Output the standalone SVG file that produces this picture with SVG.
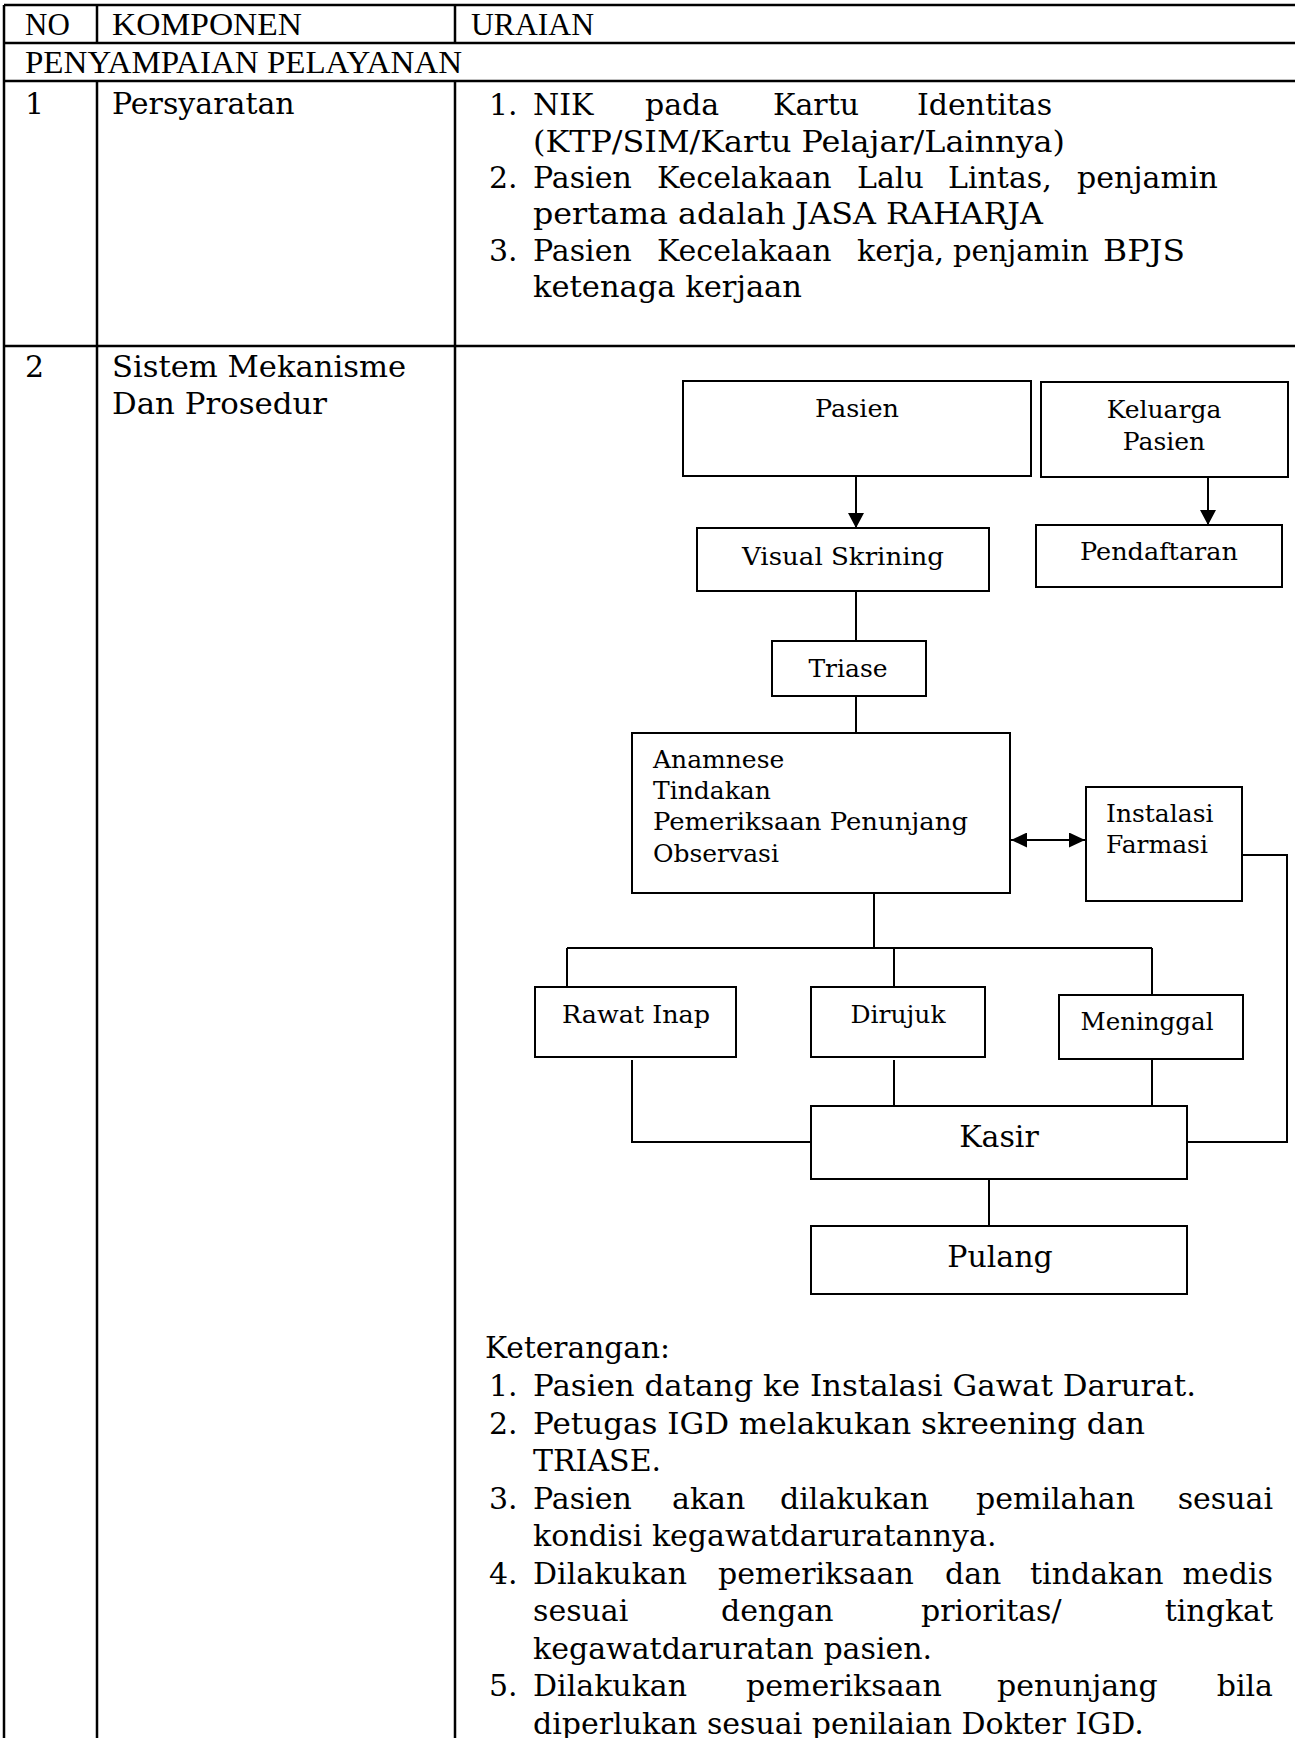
<svg xmlns="http://www.w3.org/2000/svg" width="1295" height="1738" viewBox="0 0 1295 1738">
<style>
text{font-family:"DejaVu Serif","Liberation Serif",serif;fill:#000}
.h{font-family:"Liberation Serif","DejaVu Serif",serif;font-size:31px}
.b{font-size:30px}
.f{font-size:25px}
.k{font-size:30px}
.tbl{stroke:#000;stroke-width:2.5;fill:none}
.box{fill:#fff;stroke:#000;stroke-width:2}
.con{stroke:#000;stroke-width:2;fill:none}
</style>
<defs>
<marker id="ah" viewBox="0 0 10 10" refX="10" refY="5" markerWidth="15" markerHeight="16" markerUnits="userSpaceOnUse" orient="auto-start-reverse" preserveAspectRatio="none">
<path d="M0,0 L10,5 L0,10 z" fill="#000"/>
</marker>
<marker id="ah2" viewBox="0 0 10 10" refX="10" refY="5" markerWidth="16" markerHeight="15" markerUnits="userSpaceOnUse" orient="auto-start-reverse" preserveAspectRatio="none">
<path d="M0,0 L10,5 L0,10 z" fill="#000"/>
</marker>
</defs>
<rect width="1295" height="1738" fill="#fff"/>

<g id="table">
<path class="tbl" d="M4,5 H1295 M4,43 H1295 M4,81 H1295 M4,346 H1295 M4,5 V1738 M97,5 V43 M455,5 V43 M97,81 V1738 M455,81 V1738"/>
<text class="h" x="25" y="35">NO</text>
<text class="h" x="112" y="35" textLength="190" lengthAdjust="spacingAndGlyphs">KOMPONEN</text>
<text class="h" x="471" y="35" textLength="123" lengthAdjust="spacingAndGlyphs">URAIAN</text>
<text class="h" x="25" y="73" textLength="437" lengthAdjust="spacingAndGlyphs">PENYAMPAIAN PELAYANAN</text>
<text class="b" x="25" y="114">1</text>
<text class="b" x="112" y="114">Persyaratan</text>
<text class="b" x="25" y="377">2</text>
<text class="b" x="112" y="377" textLength="294" lengthAdjust="spacingAndGlyphs">Sistem Mekanisme</text>
<text class="b" x="112" y="414" textLength="215" lengthAdjust="spacingAndGlyphs">Dan Prosedur</text>
</g>

<g id="persyaratan">
<text class="b" x="489" y="115">1.</text>
<text class="b" y="115"><tspan x="533">NIK</tspan><tspan x="645">pada</tspan><tspan x="773">Kartu</tspan><tspan x="917">Identitas</tspan></text>
<text class="b" x="533" y="151.5" textLength="532" lengthAdjust="spacingAndGlyphs">(KTP/SIM/Kartu Pelajar/Lainnya)</text>
<text class="b" x="489" y="188">2.</text>
<text class="b" y="188"><tspan x="533">Pasien</tspan><tspan x="657">Kecelakaan</tspan><tspan x="857">Lalu</tspan><tspan x="948">Lintas,</tspan><tspan x="1077">penjamin</tspan></text>
<text class="b" x="533" y="224" textLength="510" lengthAdjust="spacingAndGlyphs">pertama adalah JASA RAHARJA</text>
<text class="b" x="489" y="260.5">3.</text>
<text class="b" y="260.5"><tspan x="533">Pasien</tspan><tspan x="657">Kecelakaan</tspan><tspan x="857">kerja,</tspan></text>
<text class="b" x="953" y="260.5" textLength="136" lengthAdjust="spacingAndGlyphs">penjamin</text>
<text class="b" x="1103" y="260.5" textLength="82" lengthAdjust="spacingAndGlyphs">BPJS</text>
<text class="b" x="533" y="297" textLength="269" lengthAdjust="spacingAndGlyphs">ketenaga kerjaan</text>
</g>

<g id="connectors">
<line class="con" x1="856" y1="476" x2="856" y2="528" marker-end="url(#ah)"/>
<line class="con" x1="1208" y1="477" x2="1208" y2="525" marker-end="url(#ah)"/>
<line class="con" x1="856" y1="591" x2="856" y2="641"/>
<line class="con" x1="856" y1="696" x2="856" y2="733"/>
<line class="con" x1="1011" y1="840" x2="1085" y2="840" marker-start="url(#ah2)" marker-end="url(#ah2)"/>
<path class="con" d="M874,893 V948 M567,948 H1152 M567,948 V987 M894,948 V987 M1152,948 V995"/>
<path class="con" d="M632,1060 V1142 H811 M894,1060 V1106 M1152,1060 V1106"/>
<path class="con" d="M1243,855 H1287 V1142 H1187"/>
<line class="con" x1="989" y1="1179" x2="989" y2="1226"/>
</g>

<g id="n-pasien"><rect class="box" x="683" y="381" width="348" height="95"/><text class="f" x="857" y="417" text-anchor="middle" textLength="84" lengthAdjust="spacingAndGlyphs">Pasien</text></g>
<g id="n-keluarga"><rect class="box" x="1041" y="382" width="247" height="95"/><text class="f" x="1164" y="418" text-anchor="middle">Keluarga</text><text class="f" x="1164" y="450" text-anchor="middle">Pasien</text></g>
<g id="n-visual"><rect class="box" x="697" y="528" width="292" height="63"/><text class="f" x="843" y="565" text-anchor="middle" textLength="202" lengthAdjust="spacingAndGlyphs">Visual Skrining</text></g>
<g id="n-pendaftaran"><rect class="box" x="1036" y="525" width="246" height="62"/><text class="f" x="1159" y="560" text-anchor="middle" textLength="158" lengthAdjust="spacingAndGlyphs">Pendaftaran</text></g>
<g id="n-triase"><rect class="box" x="772" y="641" width="154" height="55"/><text class="f" x="848" y="677" text-anchor="middle">Triase</text></g>
<g id="n-anamnese"><rect class="box" x="632" y="733" width="378" height="160"/>
<text class="f" x="653" y="768">Anamnese</text>
<text class="f" x="653" y="799">Tindakan</text>
<text class="f" x="653" y="830" textLength="315" lengthAdjust="spacingAndGlyphs">Pemeriksaan Penunjang</text>
<text class="f" x="653" y="862">Observasi</text></g>
<g id="n-farmasi"><rect class="box" x="1086" y="787" width="156" height="114"/><text class="f" x="1106" y="822">Instalasi</text><text class="f" x="1106" y="853">Farmasi</text></g>
<g id="n-rawat"><rect class="box" x="535" y="987" width="201" height="70"/><text class="f" x="636" y="1023" text-anchor="middle" textLength="148" lengthAdjust="spacingAndGlyphs">Rawat Inap</text></g>
<g id="n-dirujuk"><rect class="box" x="811" y="987" width="174" height="70"/><text class="f" x="898" y="1023" text-anchor="middle">Dirujuk</text></g>
<g id="n-meninggal"><rect class="box" x="1059" y="995" width="184" height="64"/><text class="f" x="1147" y="1030" text-anchor="middle" textLength="133" lengthAdjust="spacingAndGlyphs">Meninggal</text></g>
<g id="n-kasir"><rect class="box" x="811" y="1106" width="376" height="73"/><text class="k" x="999" y="1147" text-anchor="middle">Kasir</text></g>
<g id="n-pulang"><rect class="box" x="811" y="1226" width="376" height="68"/><text class="k" x="1000" y="1267" text-anchor="middle">Pulang</text></g>

<g id="keterangan">
<text class="b" x="485" y="1358" textLength="185" lengthAdjust="spacingAndGlyphs">Keterangan:</text>
<text class="b" x="489" y="1396">1.</text>
<text class="b" x="533" y="1396" textLength="663" lengthAdjust="spacingAndGlyphs">Pasien datang ke Instalasi Gawat Darurat.</text>
<text class="b" x="489" y="1433.5">2.</text>
<text class="b" x="533" y="1433.5" textLength="612" lengthAdjust="spacingAndGlyphs">Petugas IGD melakukan skreening dan</text>
<text class="b" x="533" y="1471">TRIASE.</text>
<text class="b" x="489" y="1508.5">3.</text>
<text class="b" y="1508.5"><tspan x="533">Pasien</tspan><tspan x="672">akan</tspan><tspan x="780">dilakukan</tspan><tspan x="976">pemilahan</tspan></text>
<text class="b" x="1273" y="1508.5" text-anchor="end">sesuai</text>
<text class="b" x="533" y="1546">kondisi kegawatdaruratannya.</text>
<text class="b" x="489" y="1583.5">4.</text>
<text class="b" y="1583.5"><tspan x="533">Dilakukan</tspan><tspan x="718">pemeriksaan</tspan><tspan x="945">dan</tspan><tspan x="1030">tindakan</tspan></text>
<text class="b" x="1273" y="1583.5" text-anchor="end">medis</text>
<text class="b" y="1621"><tspan x="533">sesuai</tspan><tspan x="721">dengan</tspan><tspan x="921">prioritas/</tspan></text>
<text class="b" x="1273" y="1621" text-anchor="end">tingkat</text>
<text class="b" x="533" y="1658.5">kegawatdaruratan pasien.</text>
<text class="b" x="489" y="1696">5.</text>
<text class="b" y="1696"><tspan x="533">Dilakukan</tspan><tspan x="746">pemeriksaan</tspan><tspan x="997">penunjang</tspan></text>
<text class="b" x="1273" y="1696" text-anchor="end">bila</text>
<text class="b" x="533" y="1733.5">diperlukan sesuai penilaian Dokter IGD.</text>
</g>
</svg>
